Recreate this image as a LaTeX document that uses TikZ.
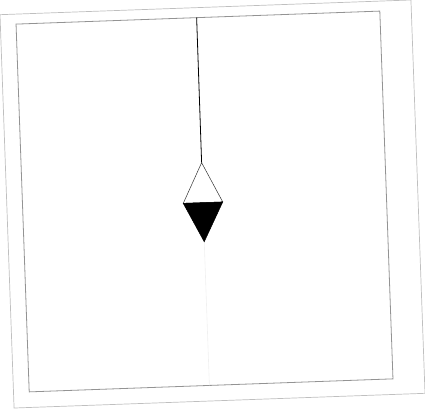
\documentclass[tikz,border=0pt]{standalone}
\usetikzlibrary{positioning}
\begin{document}
\begin{tikzpicture}[
  x=1pt, y=1pt,
  outerframe/.style={draw=gray!50, line width=0.7pt},
  innerframe/.style={draw=gray!85, line width=0.8pt},
  rod/.style={draw=black, line width=0.8pt},
  bobtop/.style={draw=black!80, line width=0.5pt, fill=white},
  bobbottom/.style={fill=black, draw=black, line width=0.5pt},
  trail/.style={draw=gray!12, line width=0.6pt}
]
  \useasboundingbox (0,0) rectangle (425,408);
  \begin{scope}[shift={(212.5,204)}, rotate=2.05]
    % frames
    \draw[outerframe] (-205.6,-196.8) rectangle (205.6,196.8);
    \draw[innerframe] (-189.9,-181.2) rectangle (174.1,186.8);
    % pendulum
    \coordinate (pivot) at (-9.2,186.8);
    \coordinate (bobtip) at (-9.4,41.7);
    \coordinate (bobleft) at (-29.2,1.7);
    \coordinate (bobright) at (10.3,1.7);
    \coordinate (bobend) at (-9.6,-37.4);
    \coordinate (floor) at (-9.6,-181.2);
    \draw[trail] (bobend) -- (floor);
    \draw[rod] (pivot) -- (bobtip);
    \draw[bobtop] (bobleft) -- (bobtip) -- (bobright) -- cycle;
    \filldraw[bobbottom] (bobleft) -- (bobright) -- (bobend) -- cycle;
  \end{scope}
\end{tikzpicture}
\end{document}
